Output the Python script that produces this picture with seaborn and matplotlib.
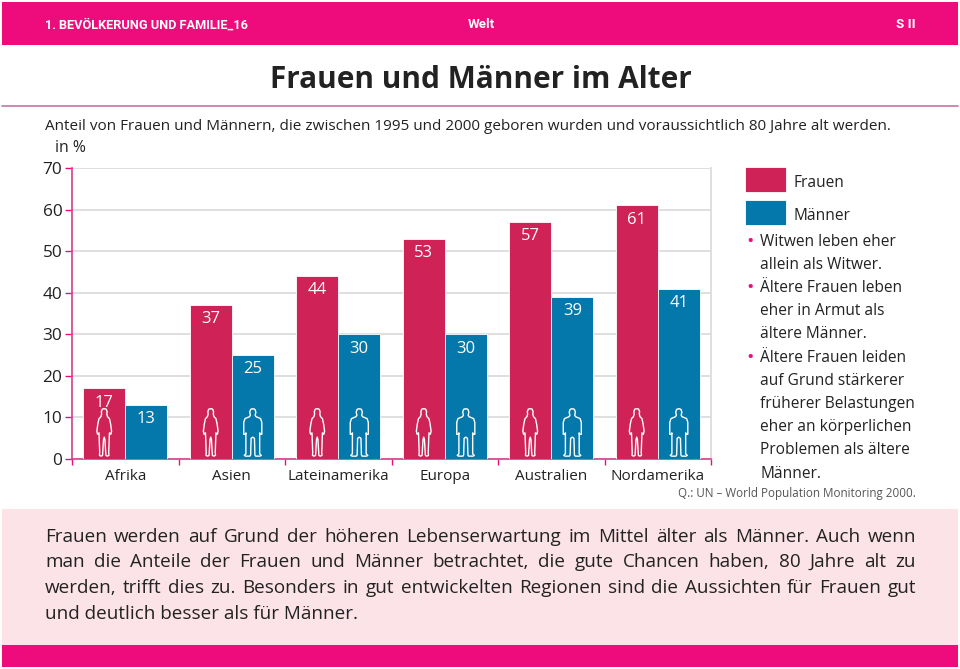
import numpy as np
import pandas as pd
import matplotlib.pyplot as plt
from matplotlib.path import Path
import seaborn as sns

# Werte aus der Grafik
regionen = ['Afrika', 'Asien', 'Lateinamerika', 'Europa', 'Australien', 'Nordamerika']
frauen = [17, 37, 44, 53, 57, 61]
maenner = [13, 25, 30, 30, 39, 41]
y_ticks = [0, 10, 20, 30, 40, 50, 60, 70]

kopf = '1. BEVÖLKERUNG UND FAMILIE_16'
titel = 'Frauen und Männer im Alter'
untertitel = ('Anteil von Frauen und Männern, die zwischen 1995 und 2000 geboren wurden '
              'und voraussichtlich 80 Jahre alt werden.')
quelle = 'Q.: UN – World Population Monitoring 2000.'
seitentext = [
    ('•', 'Witwen leben eher'), ('', 'allein als Witwer.'),
    ('•', 'Ältere Frauen leben'), ('', 'eher in Armut als'), ('', 'ältere Männer.'),
    ('•', 'Ältere Frauen leiden'), ('', 'auf Grund stärkerer'), ('', 'früherer Belastungen'),
    ('', 'eher an körperlichen'), ('', 'Problemen als ältere'), ('', 'Männer.'),
]
fliesstext = [
    'Frauen werden auf Grund der höheren Lebenserwartung im Mittel älter als Männer. Auch wenn',
    'man die Anteile der Frauen und Männer betrachtet, die gute Chancen haben, 80 Jahre alt zu',
    'werden, trifft dies zu. Besonders in gut entwickelten Regionen sind die Aussichten für Frauen gut',
    'und deutlich besser als für Männer.',
]

ROT = '#cf2257'
BLAU = '#0478ab'
MAGENTA = '#ee0b7c'
DUNKEL = '#222222'

sns.set_theme(style='white')
plt.rcParams['font.family'] = ['Open Sans', 'DejaVu Sans']

fig = plt.figure(figsize=(9.6, 6.69), dpi=100)

# Hintergrund in Pixelkoordinaten
bg = fig.add_axes([0, 0, 1, 1], zorder=0)
bg.set_xlim(0, 960)
bg.set_ylim(669, 0)
bg.axis('off')
bg.axhspan(2, 45, xmin=2 / 960, xmax=958 / 960, color=MAGENTA, lw=0)
bg.axhspan(509, 645, xmin=2 / 960, xmax=958 / 960, color='#fce3e8', lw=0)
bg.axhspan(645, 667, xmin=2 / 960, xmax=958 / 960, color=MAGENTA, lw=0)
bg.plot([2, 958], [106, 106], color='#c873a3', lw=1.2)

bg.text(45, 25, kopf, color='white', fontsize=9.2, fontweight='bold', va='center', family='Roboto')
bg.text(481, 25, 'Welt', color='white', fontsize=9.6, fontweight='bold', va='center', ha='center', family='Roboto')
bg.text(916, 25, 'S II', color='white', fontsize=9.6, fontweight='bold', va='center', ha='right', family='Roboto')
bg.text(481, 80, titel, color=DUNKEL, fontsize=21.4, fontweight='bold', va='center', ha='center')
bg.text(45, 126.5, untertitel, color=DUNKEL, fontsize=10.95, va='center')
bg.text(55, 147.5, 'in %', color=DUNKEL, fontsize=11.3, va='center')
bg.text(916, 494, quelle, color='#555555', fontsize=8.4, va='center', ha='right')

for i, (punkt, zeile) in enumerate(seitentext):
    y = 241.5 + i * 23.2
    if punkt:
        bg.text(750, y, punkt, color=MAGENTA, fontsize=14, va='center', ha='center')
    bg.text(760, y, zeile, color=DUNKEL, fontsize=11.2, va='center')

# Blocksatz: Wörter einzeln setzen
renderer = fig.canvas.get_renderer()
for i, zeile in enumerate(fliesstext):
    y = 536.5 + i * 25.7
    if i == len(fliesstext) - 1:
        bg.text(45, y, zeile, color=DUNKEL, fontsize=13.55, va='center')
        continue
    woerter = [bg.text(45, y, w, color=DUNKEL, fontsize=13.55, va='center') for w in zeile.split()]
    breiten = [t.get_window_extent(renderer).width for t in woerter]
    luecke = (871 - sum(breiten)) / (len(woerter) - 1)
    x = 45
    for t, b in zip(woerter, breiten):
        t.set_x(x)
        x += b + luecke

# Balken
df = pd.DataFrame({
    'Region': regionen * 2,
    'Geschlecht': ['Frauen'] * len(regionen) + ['Männer'] * len(regionen),
    'Anteil': frauen + maenner,
})
ax = fig.add_axes([72 / 960, 1 - 459 / 669, 639 / 960, 291 / 669], zorder=1)
ax.patch.set_alpha(0)
sns.barplot(data=df, x='Region', y='Anteil', hue='Geschlecht',
            palette={'Frauen': ROT, 'Männer': BLAU}, width=0.79, saturation=1,
            edgecolor='white', linewidth=0.6, ax=ax, zorder=3)

ax.set_xlim(-0.5, len(regionen) - 0.5)
ax.set_ylim(0, 70)
ax.set_yticks(y_ticks)
ax.set_xlabel('')
ax.set_ylabel('')
ax.yaxis.grid(True, color='#dcdcdc', lw=1.3)
ax.set_axisbelow(True)

ax.set_xticks(np.arange(-0.5, len(regionen)), minor=True)
ax.tick_params(axis='x', which='major', length=0, labelsize=11, labelcolor=DUNKEL, pad=7)
ax.tick_params(axis='x', which='minor', length=4, width=1, color=MAGENTA, bottom=True)
ax.tick_params(axis='y', length=5, width=1, color=MAGENTA, left=True, labelsize=12.4, labelcolor=DUNKEL, pad=2)

for seite in ['left', 'bottom']:
    ax.spines[seite].set_color('#d6408a')
    ax.spines[seite].set_linewidth(1.2)
ax.spines['right'].set_color('#dcdcdc')
ax.spines['right'].set_linewidth(1.3)
ax.spines['top'].set_visible(False)

for c in ax.containers[:2]:
    ax.bar_label(c, color='white', fontsize=12, padding=-16, zorder=5)


# Silhouetten
def figur(halb):
    rechts = np.array(halb)
    links = rechts[::-1] * [-1, 1]
    pts = np.vstack([rechts, links[1:]])
    return Path(pts, closed=False)


frau_umriss = figur([(0, 1), (.08, .98), (.12, .88), (.11, .76), (.14, .66), (.22, .58), (.27, .35),
                     (.31, .05), (.28, -.08), (.22, -.02), (.21, -.3), (.19, -.85), (.2, -.97),
                     (.13, -1), (.07, -.97), (.03, -.3), (0, -.2)])
mann_umriss = figur([(0, 1), (.09, .97), (.13, .85), (.1, .72), (.14, .66), (.33, .58), (.38, .42),
                     (.38, -.08), (.31, -.08), (.29, -.02), (.29, -.9), (.36, -.97), (.3, -1),
                     (.12, -1), (.09, -.95), (.07, -.25), (0, -.2)])
# bei Afrika steht nur die Frau im Balken, der Männerbalken ist zu niedrig
for c, umriss, start in zip(ax.containers[:2], [frau_umriss, mann_umriss], [0, 1]):
    xs = [p.get_x() + p.get_width() / 2 for p in c.patches][start:]
    ax.scatter(xs, [6.4] * len(xs), marker=umriss, s=1170, facecolors='none',
               edgecolors='white', linewidths=1.0, zorder=4)

# Legende
griffe, namen = ax.get_legend_handles_labels()
leg = ax.legend(griffe[:2], namen[:2], loc='upper left', bbox_to_anchor=(745 / 960, 1 - 167 / 669),
                bbox_transform=fig.transFigure, frameon=False, fontsize=11.2, handlelength=2.65,
                handleheight=2.115, labelspacing=0.5, handletextpad=0.45, borderpad=0, borderaxespad=0,
                labelcolor=DUNKEL)
for t in leg.get_texts():
    t.set_y(-3)

fig.savefig('out.png', dpi=100)
